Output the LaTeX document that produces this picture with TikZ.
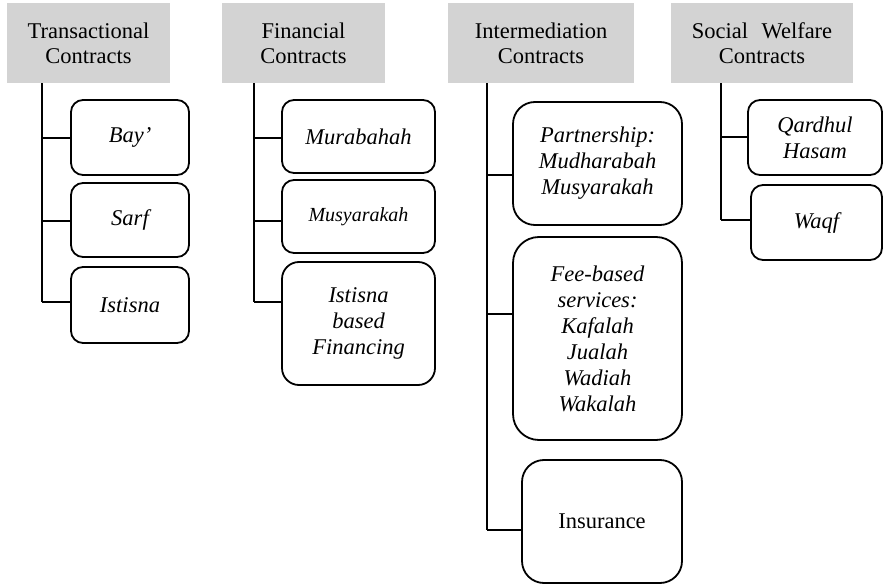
\documentclass[tikz,border=0pt]{standalone}
\usepackage{fontspec}
\setmainfont{Liberation Serif}[ItalicFont={Liberation Serif Italic},
  BoldFont={Liberation Serif Bold}]
\usetikzlibrary{calc}
\definecolor{headgray}{RGB}{211,211,211}
\begin{document}
\begin{tikzpicture}[x=1pt,y=-1pt,
  head/.style={fill=headgray, inner sep=0pt, align=center,
    font=\fontsize{22.5}{25}\selectfont},
  item/.style={draw, line width=1.8pt, rounded corners=12pt, inner sep=0pt,
    align=center, font=\fontsize{22.5}{26}\selectfont\itshape},
  big/.style={item, rounded corners=22pt},
  link/.style={line width=1.8pt}]
\useasboundingbox (0,0) rectangle (883,585);

% category headers
\node[head, minimum width=163pt, minimum height=80pt] (T) at (88.5,43) {Transactional\\Contracts};
\node[head, minimum width=163pt, minimum height=80pt] (F) at (303.5,43) {Financial\\Contracts};
\node[head, minimum width=186pt, minimum height=80pt] (I) at (541,43) {Intermediation\\Contracts};
\node[head, minimum width=182pt, minimum height=80pt] (S) at (762,43) {Social\hspace{0.6em}Welfare\\Contracts};

% transactional contracts
\node[item, minimum width=118pt, minimum height=75pt] (bay) at (130,137.5) {Bay’};
\node[item, minimum width=118pt, minimum height=74pt] (sarf) at (130,220) {Sarf};
\node[item, minimum width=118pt, minimum height=76pt] (ist) at (130,305) {Istisna};

% financial contracts
\node[item, minimum width=153pt, minimum height=73pt] (mur) at (358.5,136.5) {Murabahah};
\node[item, minimum width=153pt, minimum height=73pt,
  font=\fontsize{20}{24}\selectfont\itshape] (mus) at (358.5,216.5) {Musyarakah};
\node[item, rounded corners=17pt, minimum width=153pt, minimum height=123pt] (ibf) at (358.5,323.5) {Istisna\\based\\Financing};

% intermediation contracts
\node[big, minimum width=169pt, minimum height=123pt] (part) at (597.5,163.5) {Partnership:\\Mudharabah\\Musyarakah};
\node[big, rounded corners=26pt, minimum width=169pt, minimum height=203pt] (fee) at (597.5,338.5) {Fee-based\\services:\\Kafalah\\Jualah\\Wadiah\\Wakalah};
\node[big, minimum width=160pt, minimum height=123pt, font=\fontsize{22.5}{26}\selectfont] (ins) at (602,521.5) {Insurance};

% social welfare contracts
\node[item, minimum width=134pt, minimum height=75pt] (qh) at (815,137.5) {Qardhul\\Hasam};
\node[item, minimum width=131pt, minimum height=75pt] (waqf) at (816.5,222.5) {Waqf};

% branch points on each trunk
\coordinate (t1) at (42,138);
\coordinate (t2) at (42,221);
\coordinate (t3) at (42,302);
\coordinate (f1) at (254,138);
\coordinate (f2) at (254,221);
\coordinate (f3) at (254,302);
\coordinate (i1) at (487,175);
\coordinate (i2) at (487,314);
\coordinate (i3) at (487,530);
\coordinate (s1) at (721,137);
\coordinate (s2) at (721,220);

% trunks
\draw[link] (t3 |- T.south) -- (t3);
\draw[link] (f3 |- F.south) -- (f3);
\draw[link] (i3 |- I.south) -- (i3);
\draw[link] (s2 |- S.south) -- (s2);

% branches
\draw[link] (t1) -- (t1 -| bay.west);
\draw[link] (t2) -- (t2 -| sarf.west);
\draw[link] (t3) -- (t3 -| ist.west);
\draw[link] (f1) -- (f1 -| mur.west);
\draw[link] (f2) -- (f2 -| mus.west);
\draw[link] (f3) -- (f3 -| ibf.west);
\draw[link] (i1) -- (i1 -| part.west);
\draw[link] (i2) -- (i2 -| fee.west);
\draw[link] (i3) -- (i3 -| ins.west);
\draw[link] (s1) -- (s1 -| qh.west);
\draw[link] (s2) -- (s2 -| waqf.west);
\end{tikzpicture}
\end{document}
